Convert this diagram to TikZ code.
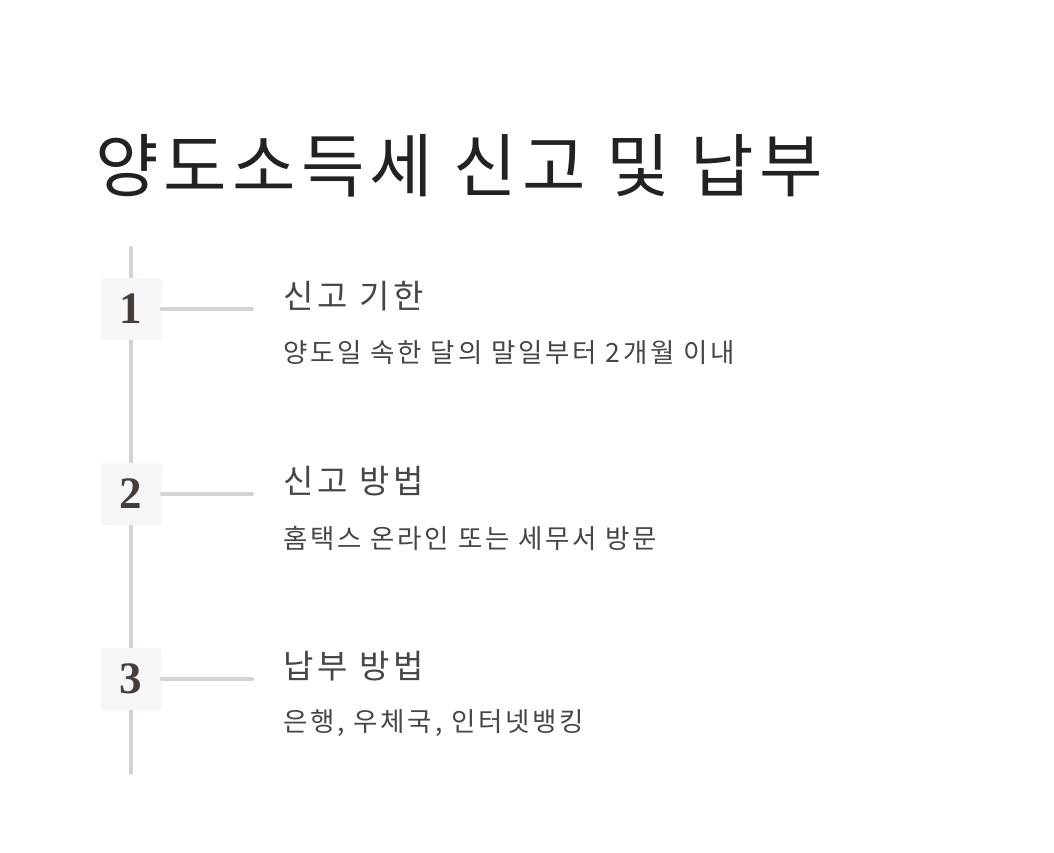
\documentclass[tikz,border=0pt]{standalone}
\usepackage{fontspec}
\setmainfont{Liberation Serif}
\newfontfamily\titlefont[LetterSpace=7.5]{Noto Sans CJK KR}
\newfontfamily\headfont[LetterSpace=12]{Noto Sans CJK KR}
\newfontfamily\descfont[LetterSpace=10.5]{Noto Sans CJK KR}
\definecolor{linegray}{HTML}{D6D2D2}
\definecolor{boxfill}{HTML}{F7F5F5}
\definecolor{numcol}{HTML}{463D3A}
\definecolor{textcol}{HTML}{4A4545}
\definecolor{titlecol}{HTML}{222222}

\begin{document}
\begin{tikzpicture}[x=1pt, y=-1pt,
    numbox/.style={fill=boxfill, rounded corners=3pt, minimum width=61pt, minimum height=62pt,
        inner sep=0pt, font=\fontsize{45}{45}\selectfont\bfseries, text=numcol},
    headtext/.style={anchor=west, inner sep=0pt, font=\headfont\fontsize{33}{33}\selectfont, text=textcol},
    desctext/.style={anchor=west, inner sep=0pt, font=\descfont\fontsize{26.5}{26.5}\selectfont, text=textcol},
    link/.style={line width=4pt, linegray, line cap=round}]
    \useasboundingbox (0,0) rectangle (1054,853);
    % TITLE
    \node[anchor=west, inner sep=0pt, font=\titlefont\fontsize{69}{69}\selectfont, text=titlecol]
        (title) at (95,166) {양도소득세 신고 및 납부};
    % TIMELINE
    \coordinate (top) at (131,248);
    \coordinate (bottom) at (131,773);
    \draw[link] (top) -- (bottom);
    % STEP 1
    \node[numbox] (n1) at (131,309) {1};
    \coordinate (e1) at (252,309);
    \draw[link] (n1.east) -- (e1);
    \node[headtext] (h1) at (283,296) {신고 기한};
    \node[desctext] (d1) at (283,353) {양도일 속한 달의 말일부터 2개월 이내};
    % STEP 2
    \node[numbox] (n2) at (131,494) {2};
    \coordinate (e2) at (252,494);
    \draw[link] (n2.east) -- (e2);
    \node[headtext] (h2) at (283,481) {신고 방법};
    \node[desctext] (d2) at (283,538) {홈택스 온라인 또는 세무서 방문};
    % STEP 3
    \node[numbox] (n3) at (131,679) {3};
    \coordinate (e3) at (252,679);
    \draw[link] (n3.east) -- (e3);
    \node[headtext] (h3) at (283,666) {납부 방법};
    \node[desctext] (d3) at (283,723) {은행, 우체국, 인터넷뱅킹};
\end{tikzpicture}
\end{document}
